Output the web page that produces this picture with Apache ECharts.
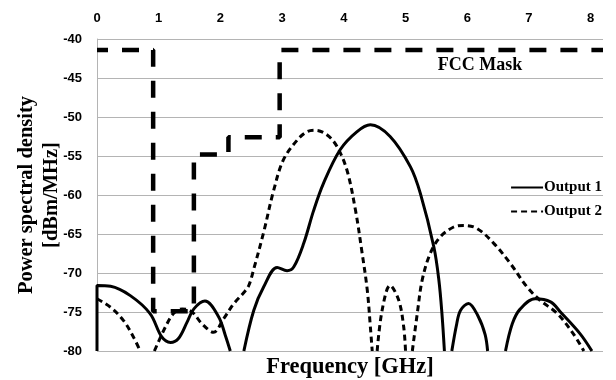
<!DOCTYPE html>
<html>
<head>
<meta charset="utf-8">
<script src="https://cdn.jsdelivr.net/npm/echarts@6/dist/echarts.min.js"></script>
<style>
  html, body { margin: 0; padding: 0; background: #fff; }
  #main { width: 616px; height: 380px; }
</style>
</head>
<body>
<div id="main"></div>
<script>
// values (GHz, dBm/MHz); null = curve drops below -80
const out1Freq = [0, 0, 0.22, 0.54, 0.86, 1.05, 1.19, 1.32, 1.46, 1.57, 1.75, 1.97, 2.08, 2.16, 2.26,
  2.38, 2.54, 2.70, 2.92, 3.08, 3.19, 3.35, 3.51, 3.67, 3.94, 4.21, 4.43, 4.75, 5.08, 5.24, 5.46, 5.54, 5.59, 5.63, 5.69,
  5.75, 5.83, 5.89, 6.02, 6.18, 6.29, 6.33, 6.47,
  6.62, 6.73, 6.86, 7.10, 7.35, 7.51, 7.83, 8.02];
const out1Val = [-80, -71.6, -71.7, -72.9, -75.2, -78.2, -78.9, -78.4, -76.3, -74.6, -73.6, -75.6, -78, -80, null,
  -80, -74.8, -71.8, -69.3, -69.7, -69.2, -66.2, -62, -58.5, -54.2, -51.9, -51.0, -52.5, -56.4, -59.8, -66.7, -70.9, -75.2, -80, null,
  -80, -76.5, -74.8, -73.9, -75.6, -77.9, -80, null,
  -80, -76.5, -74.6, -73.3, -73.7, -75, -77.8, -80];

const out2Freq = [0, 0.22, 0.43, 0.59, 0.70, 0.82,
  0.93, 1.11, 1.24, 1.38, 1.54, 1.70, 1.89, 2.05, 2.21, 2.38, 2.46, 2.54, 2.70, 2.86, 3.02, 3.24, 3.40, 3.54, 3.73, 3.89, 4.05, 4.19, 4.29, 4.38, 4.43, 4.46, 4.50,
  4.54, 4.62, 4.75, 4.89, 4.97, 5.00, 5.06,
  5.11, 5.19, 5.27, 5.40, 5.56, 5.78, 5.94, 6.16, 6.43, 6.70, 6.97, 7.18, 7.46, 7.72, 7.89];
const out2Val = [-73.3, -74.4, -76.1, -78.2, -80, null,
  -80, -76.9, -75.2, -74.6, -75, -76.5, -77.6, -75.9, -74, -72.5, -71.6, -69.5, -64.8, -59.5, -55.5, -53, -51.9, -51.7, -52.3, -53.8, -56.8, -62, -67.1, -72.2, -76.9, -80, null,
  -80, -74.8, -71.6, -73.5, -76.9, -80, null,
  -80, -75.2, -70.9, -67.5, -65.4, -64.1, -63.9, -64.3, -66.2, -68.8, -71.8, -73.5, -75.2, -77.8, -80];

const maskFreq = [0, 0.91, 0.91, 1.57, 1.57, 2.13, 2.13, 2.96, 2.96, 8.2];
const maskVal = [-41.4, -41.4, -74.9, -74.9, -54.8, -54.8, -52.6, -52.6, -41.4, -41.4];

const xTicks = [0, 1, 2, 3, 4, 5, 6, 7, 8];
const yTicks = [-80, -75, -70, -65, -60, -55, -50, -45, -40];

function pairs(xs, ys) {
  return xs.map((x, i) => [x, ys[i] === null ? '-' : ys[i]]);
}

const serif = '"Liberation Serif", "DejaVu Serif", serif';
const sans = '"Liberation Sans", Arial, sans-serif';

var chartDom = document.getElementById('main');
var myChart = echarts.init(chartDom, null, { renderer: 'canvas' });

var option = {
  animation: false,
  backgroundColor: '#fff',
  grid: { left: 97, right: 13, top: 39, bottom: 29, containLabel: false, outerBoundsMode: 'none' },
  legend: {
    data: ['Output 1', 'Output 2'],
    orient: 'vertical',
    right: 9,
    top: 175,
    itemWidth: 32,
    itemHeight: 14,
    itemGap: 9,
    itemStyle: { opacity: 0 },
    textStyle: { fontFamily: serif, fontWeight: 'bold', fontSize: 15, color: '#000', padding: [0, 0, 0, -4] }
  },
  xAxis: {
    type: 'value',
    position: 'top',
    min: 0,
    max: 8.2,
    interval: 1,
    axisLine: { show: false },
    axisTick: { show: false },
    splitLine: { show: false },
    axisLabel: {
      margin: 14,
      fontFamily: sans, fontWeight: 'bold', fontSize: 13, color: '#000',
      formatter: v => (xTicks.includes(v) ? String(v) : '')
    }
  },
  yAxis: {
    type: 'value',
    min: yTicks[0],
    max: yTicks[yTicks.length - 1],
    interval: 5,
    name: 'Power spectral density\n[dBm/MHz]',
    nameLocation: 'middle',
    nameRotate: 90,
    nameGap: 33,
    nameMoveOverlap: false,
    nameTextStyle: { fontFamily: serif, fontWeight: 'bold', fontSize: 20.5, color: '#000', lineHeight: 25 },
    axisLine: { show: true, lineStyle: { color: '#b4b4b4', width: 1 } },
    axisTick: { show: false },
    splitLine: { show: true, lineStyle: { color: '#b4b4b4', width: 1 } },
    axisLabel: { margin: 15, fontFamily: sans, fontWeight: 'bold', fontSize: 13, color: '#000' }
  },
  graphic: [
    {
      type: 'text', x: 350, y: 367,
      style: { text: 'Frequency [GHz]', textAlign: 'center', textVerticalAlign: 'middle',
        font: 'bold 22.5px ' + serif, fill: '#000' }
    },
    {
      type: 'text', x: 480, y: 65,
      style: { text: 'FCC Mask', textAlign: 'center', textVerticalAlign: 'middle',
        font: 'bold 18px ' + serif, fill: '#000' }
    }
  ],
  series: [
    {
      name: 'FCC Mask',
      type: 'line',
      symbol: 'none',
      data: pairs(maskFreq, maskVal),
      lineStyle: { color: '#000', width: 4.5, type: [17, 14], dashOffset: 6 },
      z: 3
    },
    {
      name: 'Output 1',
      type: 'line',
      symbol: 'none',
      smooth: 0.35,
      data: pairs(out1Freq, out1Val),
      lineStyle: { color: '#000', width: 3 },
      itemStyle: { color: '#000' },
      z: 4
    },
    {
      name: 'Output 2',
      type: 'line',
      symbol: 'none',
      smooth: 0.35,
      data: pairs(out2Freq, out2Val),
      lineStyle: { color: '#000', width: 3, type: [6, 4] },
      itemStyle: { color: '#000' },
      z: 4
    }
  ]
};

option && myChart.setOption(option);
</script>
</body>
</html>
